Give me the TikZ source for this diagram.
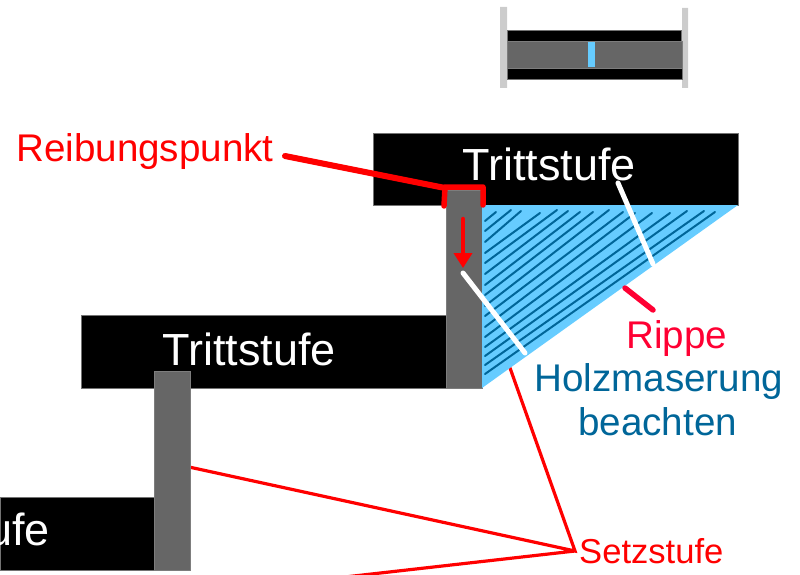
\documentclass[tikz,border=0pt]{standalone}
\usepackage{fontspec}
\setmainfont{Liberation Sans}
\usetikzlibrary{arrows.meta}
\definecolor{rib}{HTML}{66CCFF}
\definecolor{grain}{HTML}{006699}
\definecolor{riser}{HTML}{666666}
\definecolor{post}{HTML}{CCCCCC}
\definecolor{rippe}{HTML}{FF0033}
\tikzset{
  tread/.style={fill=black,draw=black!55,line width=.6pt},
  riserbox/.style={fill=riser,draw=riser!85,line width=.6pt},
  lbl/.style={anchor=base west,inner sep=0pt,font=\fontsize{38.6}{38.6}\selectfont},
  treadlbl/.style={lbl,text=white,font=\fontsize{45}{45}\selectfont},
  redthin/.style={red,line width=3.2pt},
  redthick/.style={red,line width=6pt,line cap=round,line join=round},
  pointer/.style={white,line width=5pt,line cap=round}
}
\begin{document}
\begin{tikzpicture}[x=1pt,y=-1pt]
\useasboundingbox (0,0) rectangle (800,575);
\clip (0,0) rectangle (800,575);
\coordinate (s0) at (575,551);
\coordinate (s1) at (482,289);
\coordinate (s2) at (189,467);
\coordinate (s3) at (345,577);
\coordinate (r0) at (285,156);
\coordinate (r1) at (445,188);
\coordinate (a0) at (463,219);
\coordinate (a1) at (463,268);
\coordinate (h0) at (463,273);
\coordinate (h1) at (525,353);
\coordinate (h2) at (618,183);
\coordinate (h3) at (653,264);
\coordinate (p0) at (625,288);
\coordinate (p1) at (653,310);
% small view on top
\fill[post] (500,7) rectangle (507,88) (682,8) rectangle (688,88);
\fill[tread] (507,30) rectangle (681,41);
\fill[tread] (507,68) rectangle (682,79);
\fill[riserbox] (507,41) rectangle (682,68);
\fill[rib] (588,42) rectangle (595,67);
% red lines under the stairs
\draw[redthin] (s1) -- (s0) -- (s2) (s0) -- (s3);
% stairs
\path[tread] (0,497) rectangle (154,570);
\path[tread] (81,315) rectangle (446,388);
\path[tread] (373,133) rectangle (738,205);
\path[riserbox] (154,371) rectangle (190,570);
\path[riserbox] (446,190) rectangle (482,388);
\fill[rib] (482,205) -- (738,205) -- (482,388) -- cycle;
\foreach \ys/\xe/\ye in {221/496/212,231/511/210,242/521/211,253/540/213,263/557/210,274/568/211,285/580/212,295/593/212,306/609/210,316/623/212,327/635/213,337/652/213,347/670/213,356/687/211,365/704/211,374/715/212}
  \draw[grain,line width=2pt,line cap=round] (485,\ys) -- (\xe,\ye);
\draw[pointer] (h0) -- (h1);
\draw[pointer] (h2) -- (h3);
\draw[redthick] (r0) -- (r1);
\draw[redthick,line width=5.5pt] (444,206) -- (445,187) -- (483,187) -- (483,205);
\draw[red,line width=4.5pt,line cap=round,-{Triangle[length=15pt,width=18pt]}] (a0) -- (a1);
\draw[rippe,line width=5.5pt,line cap=round] (p0) -- (p1);
% labels
\node[treadlbl] (t3) at (462,180) {Trittstufe};
\node[treadlbl] (t2) at (162,365) {Trittstufe};
\node[treadlbl] (t1) at (-124,545) {Trittstufe};
\node[lbl,text=red] (reib) at (16,161) {Reibungspunkt};
\node[lbl,text=rippe] (ripp) at (626,348) {Rippe};
\node[lbl,text=grain] (holz) at (534,391) {Holzmaserung};
\node[lbl,text=grain] (beach) at (578,435) {beachten};
\node[lbl,text=red,font=\fontsize{34.6}{34.6}\selectfont] (setz) at (579,563) {Setzstufe};
\end{tikzpicture}
\end{document}
